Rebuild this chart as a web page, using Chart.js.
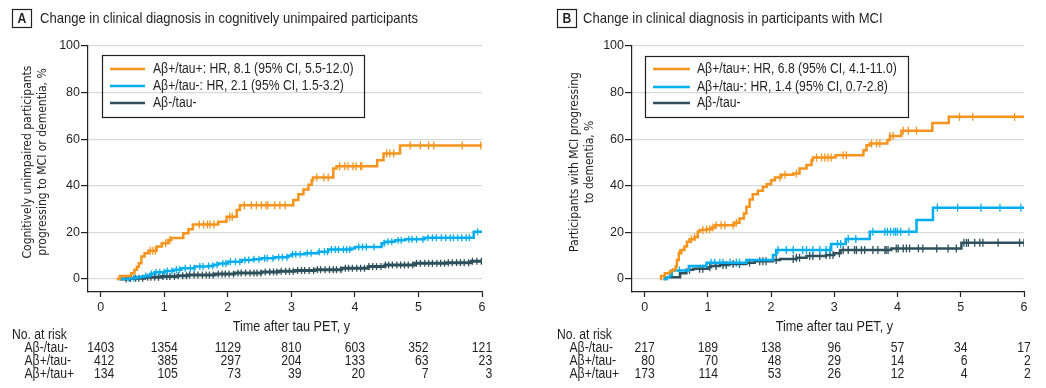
<!DOCTYPE html>
<html><head><meta charset="utf-8">
<script src="https://cdn.jsdelivr.net/npm/chart.js@4"></script>
<style>
html,body{margin:0;padding:0;background:#fff;}
body{width:1046px;height:388px;overflow:hidden;position:relative;}
canvas{position:absolute;top:0;}
</style>
</head><body>
<canvas id="ca" width="523" height="388" style="left:0"></canvas>
<canvas id="cb" width="523" height="388" style="left:523px"></canvas>
<script>
// ---------- tick labels ----------
const xTicks = [0, 1, 2, 3, 4, 5, 6];
const yTicks = [0, 20, 40, 60, 80, 100];
const groupNames = ['Aβ-/tau-', 'Aβ+/tau-', 'Aβ+/tau+'];

// ---------- Panel A: cognitively unimpaired ----------
const A_posPos_t = [0.25, 0.30, 0.48, 0.53, 0.57, 0.60, 0.64, 0.69, 0.75, 0.88, 0.96, 1.06, 1.11, 1.30, 1.38, 1.45, 1.85, 1.98, 2.14, 2.19, 3.03, 3.11, 3.19, 3.27, 3.32, 3.34, 3.66, 3.71, 4.35, 4.45, 4.71, 6.00];
const A_posPos_v = [0, 1.3, 2.4, 3.9, 5.2, 6.7, 9.6, 11.0, 12.1, 13.9, 15.3, 16.7, 17.6, 19.6, 21.3, 23.4, 24.6, 26.7, 29.6, 31.6, 33.9, 36.4, 38.4, 40.4, 42.4, 43.6, 47.4, 48.4, 51.0, 53.9, 57.3, 57.3];
const A_posPos_cens = [0.78, 0.82, 0.86, 1.02, 1.09, 1.55, 1.62, 1.68, 1.72, 1.78, 2.03, 2.07, 2.26, 2.37, 2.45, 2.53, 2.60, 2.63, 2.74, 2.82, 2.90, 3.40, 3.51, 3.58, 3.76, 3.84, 3.89, 3.97, 4.02, 4.09, 4.11, 4.50, 4.55, 4.61, 4.87, 5.03, 5.16, 5.24, 5.69, 5.98];

const A_posNeg_t = [0.27, 0.45, 0.54, 0.62, 0.69, 0.78, 0.85, 1.01, 1.15, 1.27, 1.48, 1.69, 1.78, 1.85, 2.00, 2.22, 2.40, 2.53, 2.74, 2.95, 3.00, 3.21, 3.42, 3.58, 3.95, 4.00, 4.42, 4.47, 4.63, 4.79, 5.10, 5.87, 6.00];
const A_posNeg_v = [0, 0.3, 0.6, 0.9, 1.3, 2.2, 2.9, 3.4, 4.0, 4.6, 5.3, 5.6, 6.1, 6.6, 7.4, 8.1, 8.5, 8.9, 9.3, 10.0, 10.6, 11.0, 11.7, 12.6, 13.1, 13.7, 15.3, 16.0, 16.6, 17.0, 17.7, 20.3, 20.3];
const A_posNeg_cens = [0.45, 0.52, 0.71, 0.80, 0.87, 0.93, 1.00, 1.05, 1.12, 1.19, 1.24, 1.33, 1.41, 1.47, 1.56, 1.61, 1.70, 1.76, 1.83, 1.92, 1.97, 2.04, 2.12, 2.19, 2.27, 2.33, 2.41, 2.49, 2.58, 2.62, 2.71, 2.80, 2.86, 2.93, 3.02, 3.07, 3.14, 3.25, 3.31, 3.44, 3.52, 3.57, 3.63, 3.69, 3.74, 3.82, 3.87, 3.92, 4.06, 4.12, 4.18, 4.30, 4.46, 4.52, 4.58, 4.68, 4.73, 4.85, 4.90, 4.97, 5.07, 5.15, 5.22, 5.28, 5.36, 5.43, 5.50, 5.55, 5.62, 5.68, 5.75, 5.80, 5.93];

const A_negNeg_t = [0.30, 0.45, 0.69, 0.96, 1.20, 1.38, 1.80, 2.11, 2.53, 2.80, 3.06, 3.37, 3.79, 4.21, 4.47, 4.94, 5.45, 5.83, 6.00];
const A_negNeg_v = [0, 0.3, 0.7, 1.1, 1.4, 1.7, 2.1, 2.6, 3.0, 3.3, 3.6, 4.0, 4.6, 5.3, 6.0, 6.7, 7.0, 7.6, 7.6];
const A_negNeg_cens = [0.40, 0.47, 0.55, 0.60, 0.66, 0.74, 0.79, 0.85, 0.91, 0.98, 1.04, 1.09, 1.16, 1.22, 1.29, 1.35, 1.40, 1.47, 1.53, 1.60, 1.66, 1.71, 1.77, 1.85, 1.91, 1.96, 2.02, 2.09, 2.16, 2.21, 2.28, 2.35, 2.41, 2.46, 2.52, 2.59, 2.66, 2.72, 2.77, 2.84, 2.91, 2.97, 3.03, 3.10, 3.16, 3.21, 3.28, 3.35, 3.41, 3.46, 3.53, 3.60, 3.66, 3.71, 3.78, 3.85, 3.90, 3.96, 4.03, 4.09, 4.15, 4.22, 4.28, 4.34, 4.41, 4.48, 4.53, 4.59, 4.66, 4.72, 4.78, 4.84, 4.91, 4.97, 5.03, 5.10, 5.16, 5.22, 5.29, 5.35, 5.41, 5.47, 5.53, 5.60, 5.66, 5.72, 5.79, 5.85, 5.92, 5.99];

const A_risk_negNeg = [1403, 1354, 1129, 810, 603, 352, 121];
const A_risk_posNeg = [412, 385, 297, 204, 133, 63, 23];
const A_risk_posPos = [134, 105, 73, 39, 20, 7, 3];

// ---------- Panel B: MCI ----------
const B_posPos_t = [0.24, 0.26, 0.32, 0.40, 0.45, 0.49, 0.51, 0.54, 0.58, 0.63, 0.67, 0.71, 0.79, 0.84, 0.87, 0.98, 1.06, 1.11, 1.42, 1.50, 1.57, 1.61, 1.66, 1.71, 1.79, 1.87, 1.93, 2.00, 2.06, 2.16, 2.35, 2.45, 2.56, 2.64, 2.66, 3.02, 3.46, 3.51, 3.56, 3.84, 3.88, 4.06, 4.55, 4.81, 6.00];
const B_posPos_v = [0, 1.3, 2.4, 3.4, 4.1, 5.3, 8.1, 11.0, 12.4, 13.9, 16.0, 17.0, 17.9, 20.3, 21.0, 21.3, 22.1, 23.1, 24.1, 26.0, 28.1, 31.0, 34.1, 36.4, 37.9, 39.6, 40.7, 42.4, 43.6, 44.7, 45.3, 47.4, 48.9, 51.0, 52.1, 53.1, 55.3, 57.4, 58.1, 59.6, 61.4, 63.6, 67.0, 69.6, 69.6];
const B_posPos_cens = [0.55, 0.74, 0.79, 0.92, 0.98, 1.03, 1.08, 1.13, 1.21, 1.27, 1.40, 1.45, 2.14, 2.22, 2.40, 2.72, 2.80, 2.85, 2.90, 2.95, 3.14, 3.19, 3.59, 3.67, 3.72, 3.88, 3.93, 4.09, 4.17, 4.30, 4.98, 5.19, 5.85];

const B_posNeg_t = [0.30, 0.35, 0.40, 0.43, 0.70, 0.98, 1.61, 2.03, 2.08, 2.95, 3.18, 3.56, 4.30, 4.56, 6.00];
const B_posNeg_v = [0, 0.7, 1.7, 3.6, 5.6, 7.0, 8.1, 10.3, 12.4, 15.0, 17.1, 20.3, 25.3, 30.6, 30.6];
const B_posNeg_cens = [0.55, 1.05, 1.11, 1.19, 1.24, 1.35, 1.45, 1.50, 2.11, 2.24, 2.35, 2.50, 2.56, 2.66, 2.77, 2.87, 2.93, 3.05, 3.10, 3.22, 3.34, 3.61, 3.80, 3.84, 3.89, 3.94, 3.97, 4.00, 4.05, 4.18, 4.63, 4.95, 5.32, 5.62, 5.95];

const B_negNeg_t = [0.30, 0.33, 0.56, 0.66, 0.77, 1.00, 1.05, 1.19, 1.32, 1.61, 1.74, 2.03, 2.14, 2.40, 2.56, 2.87, 3.00, 3.10, 3.90, 5.01, 6.00];
const B_negNeg_v = [0, 0.7, 2.4, 3.9, 4.4, 5.0, 5.6, 6.0, 6.4, 7.0, 7.6, 8.1, 8.6, 9.1, 9.9, 10.3, 11.0, 12.4, 13.1, 15.5, 15.5];
const B_negNeg_cens = [0.71, 0.87, 0.92, 1.03, 1.13, 1.24, 1.29, 1.40, 1.50, 1.66, 1.82, 1.87, 1.92, 2.08, 2.35, 2.40, 2.45, 2.61, 2.66, 2.77, 2.87, 2.93, 2.98, 3.08, 3.14, 3.22, 3.32, 3.35, 3.43, 3.48, 3.61, 3.69, 3.80, 3.82, 3.85, 3.98, 4.01, 4.09, 4.14, 4.19, 4.33, 4.40, 4.62, 4.80, 4.93, 5.05, 5.09, 5.12, 5.22, 5.30, 5.35, 5.59, 5.93, 6.00];

const B_risk_negNeg = [217, 189, 138, 96, 57, 34, 17];
const B_risk_posNeg = [80, 70, 48, 29, 14, 6, 2];
const B_risk_posPos = [173, 114, 53, 26, 12, 4, 2];

// ---------- styles ----------
const ORANGE = '#F7941D', BLUE = '#00AEEF', DARK = '#2E505C', INK = '#231F20', GRID = '#D9D9D9';
const SANS = '"Liberation Sans", Arial, sans-serif';
const NARROW_K = 0.87;            // horizontal compression (emulates a condensed face)
const YFONT = '"DejaVu Sans Condensed", "DejaVu Sans", sans-serif';

function stepValue(ts, vs, t) {
  let v = vs[0];
  for (let i = 0; i < ts.length; i++) { if (ts[i] <= t) v = vs[i]; else break; }
  return v;
}
function curve(label, ts, vs, color, width) {
  return { label, data: ts.map((x, i) => ({ x, y: vs[i] })), borderColor: color, backgroundColor: color,
    borderWidth: width, stepped: true, pointRadius: 0, fill: false, tension: 0 };
}
function censor(ts, vs, cens, color, r) {
  return { label: '', isCensor: true, data: cens.map(x => ({ x, y: stepValue(ts, vs, x) })), showLine: false,
    pointStyle: 'line', rotation: 90, pointRadius: r, pointBorderColor: color, pointBorderWidth: 1.3,
    borderColor: color, backgroundColor: color };
}
function nText(ctx, str, x, y, align) {
  ctx.save(); ctx.translate(x, y); ctx.scale(NARROW_K, 1); ctx.textAlign = align;
  ctx.fillText(str, 0, 0); ctx.restore();
}
function nWidth(ctx, str) { return ctx.measureText(str).width * NARROW_K; }

function makePanel(canvasId, P) {
  const decor = {
    id: 'decor',
    afterDraw(chart) {
      const ctx = chart.ctx, xs = chart.scales.x;
      ctx.save();
      ctx.fillStyle = INK; ctx.strokeStyle = INK; ctx.textBaseline = 'middle';
      ctx.lineWidth = 1.2;
      ctx.strokeRect(P.boxX + 0.5, 9.5, 19, 18);
      ctx.font = 'bold 14px ' + SANS;
      nText(ctx, P.letter, P.boxX + 10, 19, 'center');
      ctx.font = '15px ' + SANS;
      nText(ctx, P.title, P.titleX, 18.5, 'left');
      // y-axis title
      ctx.font = '12px ' + YFONT; ctx.textAlign = 'center';
      P.yTitle.forEach((line, i) => {
        ctx.save(); ctx.translate(P.yTitleX[i], 162); ctx.rotate(-Math.PI / 2);
        ctx.fillText(line, 0, 0); ctx.restore();
      });
      // x-axis title
      ctx.font = '14.5px ' + SANS;
      nText(ctx, 'Time after tau PET, y', xs.getPixelForValue(3), 327, 'center');
      // legend
      const L = P.legend;
      ctx.lineWidth = 1.2; ctx.strokeStyle = INK;
      ctx.strokeRect(L.x + 0.5, L.y + 0.5, L.w, L.h);
      const items = chart.data.datasets.filter(d => !d.isCensor);
      ctx.font = '14px ' + SANS;
      items.forEach((d, i) => {
        const yy = L.rows[i];
        ctx.strokeStyle = d.borderColor; ctx.lineWidth = 2.5;
        ctx.beginPath(); ctx.moveTo(L.x1, yy); ctx.lineTo(L.x2, yy); ctx.stroke();
        ctx.fillStyle = INK; nText(ctx, d.label, L.tx, yy, 'left');
      });
      // risk table
      ctx.fillStyle = INK; ctx.font = '14px ' + SANS;
      nText(ctx, 'No. at risk', P.riskX, 335, 'left');
      const rowsY = [348, 361.5, 374.5];
      groupNames.forEach((g, r) => nText(ctx, g, P.riskX + 12.5, rowsY[r], 'left'));
      xTicks.forEach((tk, c) => {
        const cx = xs.getPixelForValue(tk);
        const w = nWidth(ctx, String(P.risk[0][c]));
        P.risk.forEach((row, r) => nText(ctx, String(row[c]), cx + w / 2, rowsY[r], 'right'));
      });
      ctx.restore();
    }
  };
  return new Chart(document.getElementById(canvasId), {
    type: 'line',
    data: { datasets: P.datasets },
    options: {
      responsive: false, animation: false, devicePixelRatio: 1,
      layout: { padding: { left: 0, top: 46, right: 523 - P.right, bottom: 0 } },
      plugins: { legend: { display: false }, tooltip: { enabled: false } },
      scales: {
        x: {
          type: 'linear', min: -0.2, max: 6,
          afterBuildTicks: s => { s.ticks = xTicks.map(v => ({ value: v })); },
          afterFit: s => { s.height = 388 - 292; },
          grid: { drawOnChartArea: false, tickLength: 5, tickColor: INK, tickWidth: 1.2 },
          border: { color: INK, width: 1.2 },
          ticks: { color: INK, font: { family: SANS, size: 12.5 }, padding: 3, maxRotation: 0 }
        },
        y: {
          type: 'linear', min: -5.6, max: 100,
          afterBuildTicks: s => { s.ticks = yTicks.map(v => ({ value: v })); },
          afterFit: s => { s.width = P.left; },
          grid: { color: GRID, lineWidth: 1.2, tickLength: 7, tickColor: INK, tickWidth: 1.2 },
          border: { color: INK, width: 1.2 },
          ticks: { color: INK, font: { family: SANS, size: 12.5 }, padding: 1 }
        }
      }
    },
    plugins: [decor]
  });
}

makePanel('ca', {
  letter: 'A', boxX: 12, titleX: 40,
  title: 'Change in clinical diagnosis in cognitively unimpaired participants',
  left: 88, right: 482,
  yTitle: ['Cognitively unimpaired participants', 'progressing to MCI or dementia, %'], yTitleX: [28, 43],
  legend: { x: 102, y: 55, w: 262, h: 62, x1: 110, x2: 145, tx: 153, rows: [69, 86, 103] },
  riskX: 12,
  risk: [A_risk_negNeg, A_risk_posNeg, A_risk_posPos],
  datasets: [
    curve('Aβ+/tau+: HR, 8.1 (95% CI, 5.5-12.0)', A_posPos_t, A_posPos_v, ORANGE, 2.5),
    curve('Aβ+/tau-: HR, 2.1 (95% CI, 1.5-3.2)', A_posNeg_t, A_posNeg_v, BLUE, 2.5),
    curve('Aβ-/tau-', A_negNeg_t, A_negNeg_v, DARK, 3),
    censor(A_posPos_t, A_posPos_v, A_posPos_cens, ORANGE, 4),
    censor(A_posNeg_t, A_posNeg_v, A_posNeg_cens, BLUE, 3.5),
    censor(A_negNeg_t, A_negNeg_v, A_negNeg_cens, DARK, 3.5)
  ]
});

makePanel('cb', {
  letter: 'B', boxX: 34, titleX: 60,
  title: 'Change in clinical diagnosis in participants with MCI',
  left: 109, right: 501,
  yTitle: ['Participants with MCI progressing', 'to dementia, %'], yTitleX: [52, 67],
  legend: { x: 122, y: 56, w: 263, h: 61, x1: 130, x2: 167, tx: 174, rows: [69, 87, 103] },
  riskX: 34,
  risk: [B_risk_negNeg, B_risk_posNeg, B_risk_posPos],
  datasets: [
    curve('Aβ+/tau+: HR, 6.8 (95% CI, 4.1-11.0)', B_posPos_t, B_posPos_v, ORANGE, 2.5),
    curve('Aβ+/tau-: HR, 1.4 (95% CI, 0.7-2.8)', B_posNeg_t, B_posNeg_v, BLUE, 2.5),
    curve('Aβ-/tau-', B_negNeg_t, B_negNeg_v, DARK, 2.5),
    censor(B_posPos_t, B_posPos_v, B_posPos_cens, ORANGE, 4),
    censor(B_posNeg_t, B_posNeg_v, B_posNeg_cens, BLUE, 4),
    censor(B_negNeg_t, B_negNeg_v, B_negNeg_cens, DARK, 4)
  ]
});
</script>
</body></html>
